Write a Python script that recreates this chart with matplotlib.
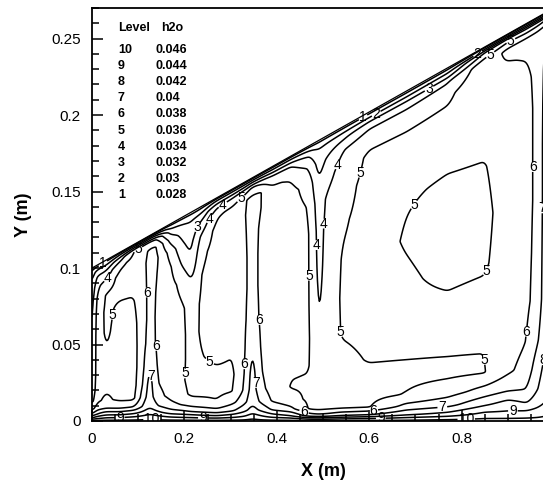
import numpy as np
import matplotlib
matplotlib.use('Agg')
import matplotlib.pyplot as plt
from matplotlib.ticker import MultipleLocator, FuncFormatter

plt.rcParams['font.family'] = ['Liberation Sans', 'DejaVu Sans']

# legend table: contour level number -> h2o mass fraction
levels = [10, 9, 8, 7, 6, 5, 4, 3, 2, 1]
h2o = [0.046, 0.044, 0.042, 0.04, 0.038, 0.036, 0.034, 0.032, 0.03, 0.028]

# domain: floor y=0, left wall x=0, slanted top wall
top_left = 0.1
top_right = 0.27

# field, in "level" units, on columns x and
# rows eta = y / y_top(x)  (0 = floor, 1 = slanted top wall)
x_cols = [0.0, 0.01, 0.03, 0.06, 0.09, 0.11, 0.125, 0.14, 0.17, 0.2, 0.215,
          0.235, 0.27, 0.305, 0.33, 0.347, 0.365, 0.39, 0.43, 0.47, 0.49,
          0.51, 0.54, 0.6, 0.68, 0.77, 0.85, 0.9, 0.94, 0.965, 1.0]
eta_rows = [0, 0.02, 0.045, 0.08, 0.13, 0.2, 0.3, 0.42, 0.55, 0.68, 0.78,
            0.86, 0.92, 0.96, 0.985, 1.0]
lvl_by_col = [
    [10.3, 8.0, 6.0, 4.5, 3.5, 3.0, 2.8, 2.7, 2.6, 2.5, 2.3, 2.0, 1.7, 1.3, 0.8, 0.5],
    [10.3, 8.6, 7.0, 5.6, 4.8, 4.6, 4.5, 4.5, 4.5, 4.4, 4.2, 3.8, 3.2, 2.4, 1.3, 0.5],
    [10.3, 9.0, 7.6, 6.0, 5.2, 4.9, 4.8, 4.95, 5.15, 5.2, 5.1, 4.3, 3.3, 2.3, 1.3, 0.5],
    [10.3, 9.0, 7.5, 5.8, 4.8, 4.7, 4.7, 4.7, 4.7, 4.85, 5.3, 5.3, 4.8, 3.5, 2.0, 0.5],
    [10.3, 9.2, 7.8, 6.0, 4.7, 4.6, 4.6, 4.6, 4.65, 4.9, 5.3, 5.3, 5.2, 5.0, 2.5, 0.5],
    [10.3, 9.4, 8.3, 7.1, 6.5, 6.0, 5.7, 5.65, 5.65, 5.65, 5.7, 5.75, 5.7, 5.3, 2.5, 0.5],
    [10.4, 9.6, 8.7, 7.9, 7.6, 7.6, 7.2, 6.5, 6.3, 6.3, 6.3, 6.3, 6.15, 5.4, 2.8, 0.5],
    [10.3, 9.4, 8.3, 7.1, 6.4, 6.05, 5.9, 5.85, 5.9, 5.95, 6.05, 6.2, 6.1, 5.0, 2.6, 0.5],
    [10.3, 9.0, 7.5, 6.3, 5.7, 5.55, 5.5, 5.45, 5.4, 5.3, 5.1, 4.6, 3.6, 2.6, 1.5, 0.5],
    [10.3, 8.8, 7.2, 5.9, 5.2, 5.05, 5.1, 5.1, 5.05, 4.6, 3.6, 3.0, 2.5, 2.0, 1.3, 0.5],
    [10.3, 8.7, 7.0, 5.6, 4.8, 4.6, 4.6, 4.6, 4.5, 3.9, 3.0, 2.7, 2.4, 1.9, 1.2, 0.5],
    [10.3, 8.5, 6.8, 5.4, 4.8, 4.75, 4.95, 5.1, 5.1, 5.0, 4.7, 4.1, 3.2, 2.3, 1.3, 0.5],
    [10.3, 8.3, 6.4, 5.1, 4.8, 4.8, 5.2, 5.4, 5.45, 5.45, 5.4, 5.3, 4.9, 3.8, 2.2, 0.5],
    [10.3, 8.6, 6.9, 5.8, 4.95, 4.85, 5.05, 5.5, 5.6, 5.6, 5.55, 5.45, 5.1, 4.0, 2.3, 0.5],
    [10.3, 9.0, 7.7, 6.7, 6.15, 5.95, 5.85, 5.85, 5.85, 5.85, 5.9, 5.95, 5.9, 4.5, 2.4, 0.5],
    [10.4, 9.5, 8.5, 7.8, 7.6, 7.5, 7.1, 6.5, 6.3, 6.3, 6.3, 6.3, 6.25, 5.1, 2.6, 0.5],
    [10.3, 9.1, 7.8, 6.8, 6.3, 6.05, 5.9, 5.85, 5.85, 5.85, 5.9, 6.05, 6.1, 4.8, 2.5, 0.5],
    [10.3, 8.5, 6.9, 5.9, 5.6, 5.5, 5.45, 5.4, 5.4, 5.4, 5.4, 5.35, 5.1, 4.2, 2.3, 0.5],
    [10.3, 8.0, 6.3, 5.3, 4.95, 5.1, 5.35, 5.35, 5.35, 5.35, 5.35, 5.3, 4.9, 4.0, 2.3, 0.5],
    [10.2, 6.5, 4.9, 4.85, 4.9, 5.05, 5.1, 5.1, 5.1, 5.1, 4.95, 4.6, 3.9, 3.0, 1.8, 0.5],
    [10.2, 6.3, 4.7, 4.6, 4.55, 4.5, 4.2, 3.85, 3.7, 3.6, 3.4, 2.95, 2.6, 2.2, 1.5, 0.5],
    [10.2, 6.4, 4.8, 4.7, 4.7, 4.65, 4.5, 4.4, 4.35, 4.3, 4.2, 3.6, 3.1, 2.5, 1.6, 0.5],
    [10.2, 6.8, 4.9, 4.7, 4.7, 4.8, 5.05, 5.1, 5.05, 4.9, 4.7, 4.4, 3.9, 2.8, 1.7, 0.5],
    [10.3, 7.0, 4.95, 4.75, 4.75, 5.05, 5.2, 5.25, 5.25, 5.25, 5.25, 5.15, 4.6, 3.6, 1.8, 0.5],
    [10.3, 7.8, 6.3, 5.05, 4.8, 5.05, 5.2, 5.1, 4.95, 5.05, 5.2, 5.15, 4.6, 3.6, 1.8, 0.5],
    [10.4, 8.3, 6.7, 5.6, 4.85, 5.05, 5.2, 4.85, 4.7, 4.95, 5.2, 5.25, 4.8, 3.9, 2.0, 0.5],
    [10.4, 9.2, 7.8, 6.4, 4.95, 5.02, 5.3, 4.9, 4.75, 4.95, 5.3, 5.6, 5.8, 5.6, 4.0, 0.5],
    [10.4, 9.2, 8.4, 6.9, 5.8, 5.5, 5.45, 5.45, 5.45, 5.5, 5.6, 5.75, 5.95, 6.15, 4.6, 0.5],
    [10.4, 9.3, 8.0, 7.0, 6.4, 6.0, 5.8, 5.75, 5.75, 5.75, 5.75, 5.85, 6.05, 6.2, 4.3, 0.5],
    [10.4, 9.5, 8.6, 8.0, 7.6, 6.9, 6.4, 6.3, 6.2, 6.2, 6.2, 6.2, 6.25, 6.3, 4.5, 0.5],
    [10.4, 10.0, 9.6, 9.3, 9.1, 9.0, 9.0, 9.0, 9.0, 9.0, 8.8, 8.5, 8.0, 7.2, 5.0, 0.5],
]

# where the reference puts its contour labels
label_pos = [(0.02, 0.105), (0.032, 0.094), (0.054, 0.069), (0.1, 0.112),
             (0.117, 0.084), (0.136, 0.049), (0.126, 0.029), (0.06, 0.002),
             (0.13, 0.002), (0.24, 0.002), (0.208, 0.031), (0.255, 0.039),
             (0.225, 0.127), (0.251, 0.133), (0.284, 0.141), (0.327, 0.144),
             (0.36, 0.066), (0.336, 0.037), (0.36, 0.025), (0.46, 0.007),
             (0.476, 0.095), (0.489, 0.115), (0.504, 0.129), (0.52, 0.169),
             (0.558, 0.164), (0.584, 0.2), (0.615, 0.201), (0.732, 0.216),
             (0.835, 0.24), (0.861, 0.24), (0.909, 0.247), (0.699, 0.141),
             (0.861, 0.097), (0.532, 0.058), (0.866, 0.041), (0.963, 0.166),
             (0.97, 0.139), (0.952, 0.058), (0.97, 0.04), (0.608, 0.0085),
             (0.625, 0.002), (0.758, 0.01), (0.911, 0.0085), (0.81, 0.001)]


def box(a, n, axis, passes):
    # simple moving average, edges padded with edge values
    for _ in range(passes):
        pad = [(0, 0)] * a.ndim
        pad[axis] = (n // 2, n // 2)
        b = np.pad(a, pad, mode='edge')
        c = np.cumsum(b, axis=axis)
        c = np.insert(c, 0, 0, axis=axis)
        a = (np.take(c, range(n, c.shape[axis]), axis=axis) -
             np.take(c, range(0, c.shape[axis] - n), axis=axis)) / n
    return a


xf = np.linspace(0, 1, 501)
ef = np.linspace(0, 1, 641)
cols = np.array([np.interp(ef, eta_rows, c) for c in lvl_by_col])  # (ncol, neta)
Z = np.array([np.interp(xf, x_cols, cols[:, i]) for i in range(len(ef))])
Z = box(Z, 5, 1, 3)
Z = box(Z, 3, 0, 2)

ytop = top_left + (top_right - top_left) * xf
X = np.tile(xf, (len(ef), 1))
Y = ef[:, None] * ytop[None, :]

fig = plt.figure(figsize=(5.43, 4.83), dpi=100)
ax = fig.add_axes([92 / 543, 62 / 483, 462 / 543, 413 / 483])
ax.set_xlim(0, 1)
ax.set_ylim(0, 0.27)

cs = ax.contour(X, Y, Z, levels=sorted(levels), colors='black', linewidths=1.1)
txts = ax.clabel(cs, fmt=lambda v: '%d' % round(v), fontsize=10, inline=True,
                 inline_spacing=1, manual=label_pos)
for t in txts:
    t.set_rotation(0)
ax.plot(X[-1], Y[-1], color='black', lw=0.9)

ax.set_xticks([0, 0.2, 0.4, 0.6, 0.8])
ax.xaxis.set_minor_locator(MultipleLocator(0.05))
ax.yaxis.set_major_locator(MultipleLocator(0.05))
ax.yaxis.set_minor_locator(MultipleLocator(0.01))
fmt = FuncFormatter(lambda v, p: '%g' % round(v, 3))
ax.xaxis.set_major_formatter(fmt)
ax.yaxis.set_major_formatter(fmt)
ax.tick_params(which='both', direction='in', labelsize=11, width=1.1)
ax.tick_params(which='major', length=8, pad=8)
ax.tick_params(which='minor', length=5)
for s in ax.spines.values():
    s.set_linewidth(1.3)

ax.set_xlabel('X (m)', fontsize=13, fontweight='bold', labelpad=12)
ax.set_ylabel('Y (m)', fontsize=13, fontweight='bold', labelpad=14)

# level table in the upper left
tx0 = (118 - 92) / 462
tx1 = (156 - 92) / 462
ax.text(tx0, 1 - (28 - 8) / 413, 'Level', fontsize=9, fontweight='bold',
        transform=ax.transAxes, va='center')
ax.text((161 - 92) / 462, 1 - (28 - 8) / 413, 'h2o', fontsize=9,
        fontweight='bold', transform=ax.transAxes, va='center')
for i, (lv, v) in enumerate(zip(levels, h2o)):
    yy = 1 - (50 + 16.1 * i - 8) / 413
    ax.text(tx0, yy, str(lv), fontsize=9, fontweight='bold',
            transform=ax.transAxes, va='center')
    ax.text(tx1, yy, '%g' % v, fontsize=9, fontweight='bold',
            transform=ax.transAxes, va='center')

fig.savefig('out.png', dpi=100)
